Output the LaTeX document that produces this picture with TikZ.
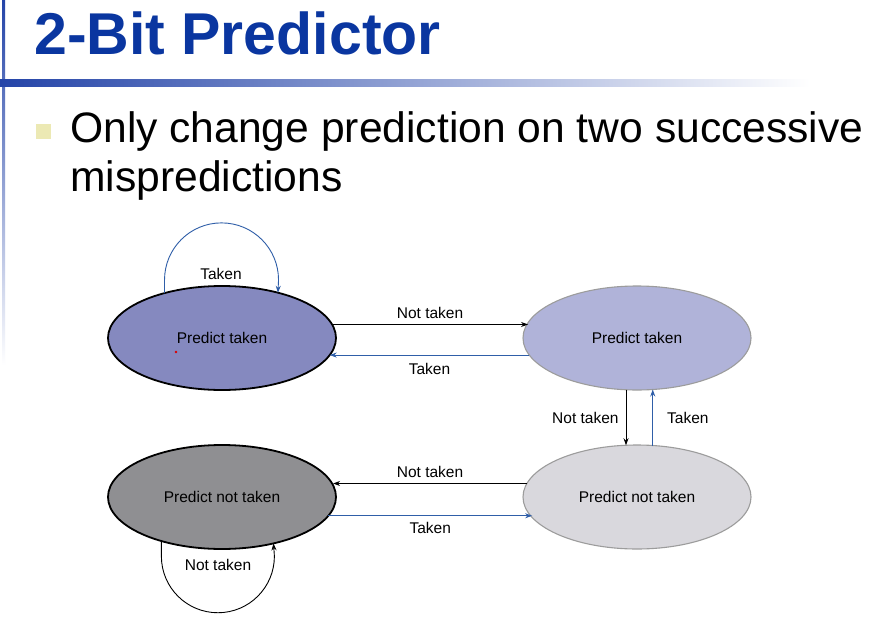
\documentclass[tikz,border=0pt]{standalone}
\usepackage{fontspec}
\setmainfont{Liberation Sans}
\usetikzlibrary{shapes.geometric,arrows.meta}

\definecolor{titleblue}{HTML}{0A36A0}
\definecolor{barblue}{HTML}{2444A8}
\definecolor{bulletyellow}{HTML}{ECE9B4}
\definecolor{linkblue}{HTML}{2F5EA8}
\definecolor{stateA}{HTML}{8589BF}
\definecolor{stateB}{HTML}{B0B3D9}
\definecolor{stateC}{HTML}{8F8F92}
\definecolor{stateD}{HTML}{D9D8DD}
\definecolor{rimgray}{HTML}{9C9C9C}

\tikzset{
  statebox/.style={ellipse, minimum width=228pt, minimum height=104pt, inner sep=0pt,
    outer sep=0pt, font=\fontsize{15.5}{18}\selectfont},
  strongrim/.style={draw=black, line width=1.8pt},
  softrim/.style={draw=rimgray, line width=1.1pt},
  blackarrow/.style={draw=black, line width=0.9pt, -{Stealth[length=7pt,width=5pt]}},
  bluearrow/.style={draw=linkblue, line width=0.9pt, -{Stealth[length=7pt,width=5pt]}},
  edgelabel/.style={font=\fontsize{15.5}{18}\selectfont, inner sep=0pt}
}

\begin{document}
\begin{tikzpicture}[x=1pt,y=1pt]
\useasboundingbox (0,0) rectangle (874,-620);
\fill[white] (0,0) rectangle (874,-620);

% slide decoration: vertical rule and title underline
\shade[top color=barblue, bottom color=white] (2,0) rectangle (5,-365);
\shade[left color=barblue, right color=white, middle color=barblue!50] (0,-80) rectangle (810,-87);

% title
\node[anchor=base west, inner sep=0pt, text=titleblue] (title) at (34,-55)
  {\fontsize{59}{70}\selectfont\bfseries 2-Bit Predictor};

% bullet
\fill[bulletyellow] (36,-124) rectangle (51,-139);
\node[anchor=base west, inner sep=0pt] (line1) at (70,-143)
  {\fontsize{42.6}{50}\selectfont Only change prediction on two successive};
\node[anchor=base west, inner sep=0pt] (line2) at (70,-192)
  {\fontsize{42.6}{50}\selectfont mispredictions};

% states
\node[statebox, strongrim, fill=stateA] (st) at (222,-338) {Predict taken};
\node[statebox, softrim, fill=stateB] (wt) at (637,-338) {Predict taken};
\node[statebox, strongrim, fill=stateC] (sn) at (222,-497) {Predict not taken};
\node[statebox, softrim, fill=stateD] (wn) at (637,-497) {Predict not taken};

% pointer dot
\fill[red!85!black] (176,-352) circle (1.4);

% transitions between the upper states
\draw[blackarrow] (st.7.8) -- (wt.172.2 |- st.7.8)
  node[edgelabel, midway, above=5pt] (l1) {Not taken};
\draw[bluearrow] (wt.-171) -- (st.-9 |- wt.-171)
  node[edgelabel, midway, below=8pt] (l2) {Taken};

% vertical transitions
\draw[blackarrow] (wt.-102) -- (wn.102 -| wt.-102)
  node[edgelabel, midway, left=7pt] (l3) {Not taken};
\draw[bluearrow] (wn.73.8) -- (wt.-73.8 -| wn.73.8)
  node[edgelabel, midway, right=14pt] (l4) {Taken};

% transitions between the lower states
\draw[blackarrow] (wn.173.3) -- (sn.6.7 |- wn.173.3)
  node[edgelabel, midway, above=5pt] (l5) {Not taken};
\draw[bluearrow] (sn.-10.2) -- (wn.-169.8 |- sn.-10.2)
  node[edgelabel, midway, below=6pt] (l6) {Taken};

% self loops
\draw[bluearrow] (st.142.3) -- ++(0,13.2) arc[start angle=180, end angle=0, radius=57] -- (st.39);
\node[edgelabel] (l7) at (221,-274) {Taken};
\draw[blackarrow] (sn.-144.5) -- ++(0,-15.2) arc[start angle=180, end angle=360, radius=56.5] -- (sn.-42);
\node[edgelabel] (l8) at (218,-565) {Not taken};
\end{tikzpicture}
\end{document}
